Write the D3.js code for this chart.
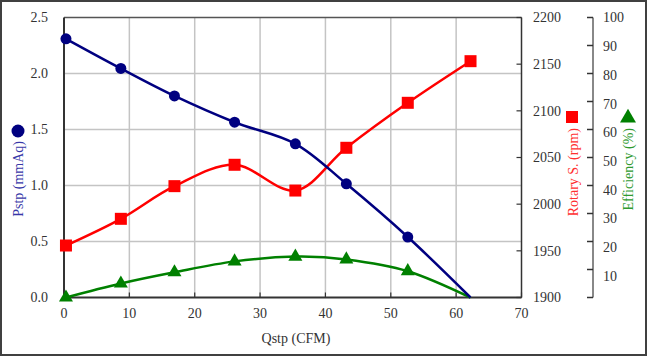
<!DOCTYPE html>
<html><head><meta charset="utf-8">
<script src="https://cdn.jsdelivr.net/npm/d3@7"></script>
<style>
html,body{margin:0;padding:0;background:#fff;}
svg{display:block;font-family:"Liberation Serif","Times New Roman",serif;}
</style></head>
<body>
<svg id="chart" width="647" height="356"></svg>
<script>
const qstp = [0.3, 8.7, 16.9, 26.1, 35.4, 43.2, 52.6, 62.2];
const pstp = [2.31, 2.045, 1.80, 1.565, 1.372, 1.015, 0.54, 0.0];
const rpm = [1955.7, 1984.3, 2019.3, 2042.2, 2014.6, 2060.4, 2108.6, 2153.2];
const eff = [0.0, 5.0, 9.0, 12.9, 14.6, 13.6, 9.4, 0.0];
const pstpMarker = [true, true, true, true, true, true, true, false];
const effMarker = [true, true, true, true, true, true, true, false];
const xTicks = [0, 10, 20, 30, 40, 50, 60, 70];
const yTicks = [0, 0.5, 1.0, 1.5, 2.0, 2.5];
const rpmTicks = [1900, 1950, 2000, 2050, 2100, 2150, 2200];
const effTicks = [0, 10, 20, 30, 40, 50, 60, 70, 80, 90, 100];

const svg = d3.select("#chart");
const L = 64, R = 521.5, T = 17.5, B = 297.5;
const x = d3.scaleLinear().domain([0, 70]).range([L, R]);
const y = d3.scaleLinear().domain([0, 2.5]).range([B, T]);
const yR = d3.scaleLinear().domain([1900, 2200]).range([B, T]);
const yE = d3.scaleLinear().domain([0, 100]).range([B, T]);

// outer frame
svg.append("rect").attr("x", 1).attr("y", 1).attr("width", 645).attr("height", 354)
  .attr("fill", "#fff").attr("stroke", "#404040").attr("stroke-width", 2);

// gridlines
svg.append("g").selectAll("line").data(xTicks.slice(1, -1)).join("line")
  .attr("x1", d => x(d)).attr("x2", d => x(d)).attr("y1", T).attr("y2", B)
  .attr("stroke", "#c4c4c4").attr("stroke-width", 1.5);
svg.append("g").selectAll("line").data(yTicks.slice(1, -1)).join("line")
  .attr("x1", L).attr("x2", R).attr("y1", d => y(d)).attr("y2", d => y(d))
  .attr("stroke", "#c4c4c4").attr("stroke-width", 1.5);

// frame of plot
svg.append("line").attr("x1", L).attr("x2", R).attr("y1", T).attr("y2", T).attr("stroke", "#555").attr("stroke-width", 1.5);
svg.append("line").attr("x1", L).attr("x2", L).attr("y1", T).attr("y2", B).attr("stroke", "#333").attr("stroke-width", 2);
svg.append("line").attr("x1", L).attr("x2", R).attr("y1", B).attr("y2", B).attr("stroke", "#333").attr("stroke-width", 2);
svg.append("line").attr("x1", R).attr("x2", R).attr("y1", T).attr("y2", B).attr("stroke", "#333").attr("stroke-width", 1.5);

// x ticks (inside)
svg.append("g").selectAll("line").data(xTicks).join("line")
  .attr("x1", d => x(d)).attr("x2", d => x(d)).attr("y1", B).attr("y2", B - 5)
  .attr("stroke", "#333").attr("stroke-width", 1.2);
svg.append("g").selectAll("text").data(xTicks).join("text")
  .attr("x", d => x(d)).attr("y", 313).attr("dy", "0.35em")
  .attr("text-anchor", "middle").attr("font-size", 14).attr("fill", "#333")
  .text(d => d);

// left labels
svg.append("g").selectAll("text").data(yTicks).join("text")
  .attr("x", 48).attr("y", d => y(d)).attr("dy", "0.35em")
  .attr("text-anchor", "end").attr("font-size", 14).attr("fill", "#333")
  .text(d => d.toFixed(1));

// rpm axis ticks (inside) + labels
svg.append("g").selectAll("line").data(rpmTicks).join("line")
  .attr("x1", R).attr("x2", R - 5).attr("y1", d => yR(d)).attr("y2", d => yR(d))
  .attr("stroke", "#333").attr("stroke-width", 1.2);
svg.append("g").selectAll("text").data(rpmTicks).join("text")
  .attr("x", 533).attr("y", d => yR(d)).attr("dy", "0.35em")
  .attr("text-anchor", "start").attr("font-size", 14).attr("fill", "#333")
  .text(d => d);

// efficiency axis
const EX = 593;
svg.append("line").attr("x1", EX).attr("x2", EX).attr("y1", T).attr("y2", B)
  .attr("stroke", "#888").attr("stroke-width", 2);
svg.append("g").selectAll("line").data(effTicks).join("line")
  .attr("x1", EX).attr("x2", EX - 6).attr("y1", d => yE(d)).attr("y2", d => yE(d))
  .attr("stroke", "#333").attr("stroke-width", 1.5);
svg.append("g").selectAll("text").data(effTicks.slice(1)).join("text")
  .attr("x", 603).attr("y", d => yE(d) + (100 - d) * 0.07).attr("dy", "0.35em")
  .attr("text-anchor", "start").attr("font-size", 14).attr("fill", "#333")
  .text(d => d);

// axis titles
svg.append("text").attr("x", 296).attr("y", 338).attr("dy", "0.35em")
  .attr("text-anchor", "middle").attr("font-size", 14).attr("fill", "#333").text("Qstp (CFM)");
svg.append("circle").attr("cx", 18).attr("cy", 131).attr("r", 6.5).attr("fill", "#000080");
svg.append("text").attr("transform", "translate(18,141) rotate(-90)").attr("dy", "0.35em")
  .attr("text-anchor", "end").attr("font-size", 14).attr("fill", "#3838a8").text("Pstp (mmAq)");
svg.append("rect").attr("x", 566).attr("y", 111).attr("width", 12).attr("height", 12).attr("fill", "#ff0000");
svg.append("text").attr("transform", "translate(573,128) rotate(-90)").attr("dy", "0.35em")
  .attr("text-anchor", "end").attr("font-size", 14).attr("fill", "#ff3030").text("Rotary S. (rpm)");
svg.append("path").attr("d", d3.symbol(d3.symbolTriangle, 110)()).attr("transform", "translate(628,118)").attr("fill", "#008000");
svg.append("text").attr("transform", "translate(628,128) rotate(-90)").attr("dy", "0.35em")
  .attr("text-anchor", "end").attr("font-size", 14).attr("fill", "#2f9a2f").text("Efficiency (%)");

// series
const curve = d3.curveCardinal.tension(0);
const lineP = d3.line().x((d, i) => x(qstp[i])).y(d => y(d)).curve(curve);
const lineR = d3.line().x((d, i) => x(qstp[i])).y(d => yR(d)).curve(curve);
const lineE = d3.line().x((d, i) => x(qstp[i])).y(d => yE(d)).curve(curve);

svg.append("path").attr("d", lineE(eff)).attr("fill", "none").attr("stroke", "#008000").attr("stroke-width", 2.5);
svg.append("path").attr("d", lineR(rpm)).attr("fill", "none").attr("stroke", "#ff0000").attr("stroke-width", 2.5);
svg.append("path").attr("d", lineP(pstp)).attr("fill", "none").attr("stroke", "#000080").attr("stroke-width", 2.5);

const tri = d3.symbol(d3.symbolTriangle, 85)();
svg.append("g").selectAll("path").data(eff.map((v, i) => ({v, i})).filter(d => effMarker[d.i])).join("path")
  .attr("d", tri).attr("transform", d => `translate(${x(qstp[d.i])},${yE(d.v)})`).attr("fill", "#008000");
svg.append("g").selectAll("rect").data(rpm.map((v, i) => ({v, i}))).join("rect")
  .attr("x", d => x(qstp[d.i]) - 6).attr("y", d => yR(d.v) - 6).attr("width", 12).attr("height", 12).attr("fill", "#ff0000");
svg.append("g").selectAll("circle").data(pstp.map((v, i) => ({v, i})).filter(d => pstpMarker[d.i])).join("circle")
  .attr("cx", d => x(qstp[d.i])).attr("cy", d => y(d.v)).attr("r", 5.5).attr("fill", "#000080");
</script>
</body></html>
